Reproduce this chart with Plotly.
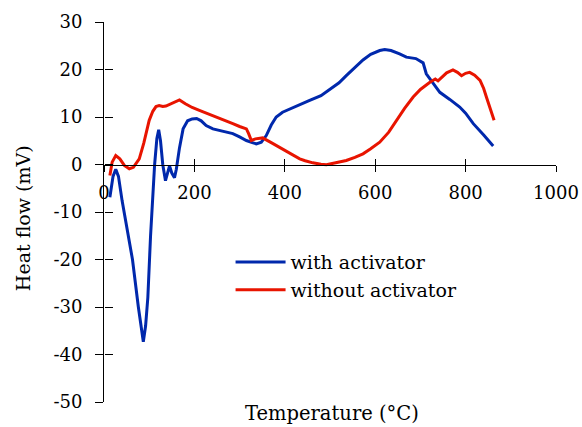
import plotly.graph_objects as go

# DSC heat-flow curves (temperature in °C, heat flow in mV)
temp_with = [13, 20, 26, 32, 40, 52, 63, 76, 83, 87, 92, 97, 103, 108, 112, 117, 121,
             125, 130, 136, 141, 145, 150, 156, 160, 167, 175, 185, 195, 205, 215, 226,
             241, 260, 285, 300, 315, 328, 337, 348, 359, 370, 381, 395, 411, 433, 455,
             480, 500, 520, 536, 555, 573, 590, 610, 621, 635, 654, 669, 690, 706, 713,
             725, 743, 765, 787, 800, 817, 840, 861]
flow_with = [-6.9, -2.5, -1.0, -2.5, -7.6, -14.0, -20.0, -30.0, -35.0, -37.3, -34.0, -28.0,
             -15.0, -5.0, 0.0, 5.5, 7.3, 5.0, 0.0, -3.4, -1.5, -0.3, -1.8, -2.8, -1.0,
             3.5, 7.5, 9.2, 9.6, 9.7, 9.2, 8.2, 7.5, 7.0, 6.5, 5.8, 5.05, 4.6, 4.35, 4.7,
             6.1, 8.3, 10.0, 11.0, 11.7, 12.6, 13.5, 14.5, 15.9, 17.2, 18.7, 20.4, 22.0,
             23.2, 24.0, 24.2, 24.0, 23.3, 22.6, 22.3, 21.4, 19.1, 17.5, 15.2, 13.7, 12.1,
             10.8, 8.6, 6.2, 3.9]

temp_without = [13, 18, 26, 35, 45, 56, 65, 78, 88, 100, 108, 115, 122, 130, 137, 150,
                167, 180, 195, 211, 230, 248, 270, 285, 300, 315, 320, 326, 335, 351, 370,
                396, 410, 433, 445, 462, 480, 492, 510, 536, 555, 573, 590, 610, 630, 647,
                665, 684, 700, 721, 733, 739, 745, 758, 772, 782, 791, 800, 809, 820, 832,
                840, 846, 855, 863]
flow_without = [-2.3, 0.5, 1.9, 1.2, -0.2, -0.9, -0.6, 1.2, 4.5, 9.3, 11.2, 12.2, 12.4,
                12.2, 12.3, 12.8, 13.6, 12.8, 12.0, 11.4, 10.7, 10.1, 9.3, 8.6, 8.0, 7.5,
                6.5, 5.05, 5.4, 5.6, 4.6, 3.2, 2.5, 1.2, 0.8, 0.35, 0.05, -0.05, 0.3, 0.84,
                1.5, 2.25, 3.3, 4.7, 6.8, 9.3, 11.8, 14.2, 15.8, 17.3, 18.0, 17.6, 18.2,
                19.3, 19.9, 19.4, 18.7, 19.2, 19.4, 18.8, 17.7, 16.0, 14.2, 11.8, 9.3]

x_ticks = [0, 200, 400, 600, 800, 1000]
y_ticks = [-50, -40, -30, -20, -10, 0, 10, 20, 30]

FONT = "DejaVu Serif"
BLUE = "#0028AC"
RED = "#E81400"

fig = go.Figure()
fig.add_trace(go.Scatter(x=temp_with, y=flow_with, mode="lines", name="with activator",
                         line=dict(color=BLUE, width=3)))
fig.add_trace(go.Scatter(x=temp_without, y=flow_without, mode="lines", name="without activator",
                         line=dict(color=RED, width=3)))
# empty trace so the overlay axes (inner half of the crossing ticks) are drawn
fig.add_trace(go.Scatter(x=[], y=[], xaxis="x2", yaxis="y2", showlegend=False))

zero_pos = (0 - y_ticks[0]) / (y_ticks[-1] - y_ticks[0])

axis_common = dict(showgrid=False, zeroline=False, linecolor="black", tickcolor="black",
                   tickwidth=1, linewidth=1, automargin=False)

fig.update_layout(
    width=582, height=427,
    margin=dict(l=104, r=26, t=22, b=25),
    paper_bgcolor="white", plot_bgcolor="white",
    font=dict(family=FONT, size=18, color="black"),
    xaxis=dict(range=[0, 1000], tickvals=x_ticks, ticktext=[str(v) for v in x_ticks],
               anchor="free", position=zero_pos, showline=True, ticks="outside", ticklen=6,
               ticklabelstandoff=6, tickfont=dict(family=FONT, size=18), **axis_common),
    yaxis=dict(range=[-50, 30], tickvals=y_ticks, ticktext=[str(v) for v in y_ticks],
               showline=True, ticks="outside", ticklen=8, ticklabelstandoff=9,
               tickfont=dict(family=FONT, size=18), **axis_common),
    xaxis2=dict(range=[0, 1000], tickvals=x_ticks[1:], overlaying="x", anchor="free",
                position=zero_pos, showline=False, ticks="inside", ticklen=6,
                showticklabels=False, **axis_common),
    yaxis2=dict(range=[-50, 30], tickvals=y_ticks, overlaying="y", anchor="free", position=0,
                side="left", showline=False, ticks="inside", ticklen=8,
                showticklabels=False, **axis_common),
    legend=dict(x=0.28, y=0.418, xanchor="left", yanchor="top", bgcolor="rgba(0,0,0,0)",
                font=dict(family=FONT, size=19), tracegroupgap=0, itemwidth=50),
    showlegend=True,
    annotations=[
        dict(text="Heat flow (mV)", xref="paper", yref="paper", x=-0.179, y=0.484,
             xanchor="center", yanchor="middle", textangle=-90, showarrow=False,
             font=dict(family=FONT, size=19)),
        dict(text="Temperature (°C)", xref="paper", yref="paper", x=0.504, y=-0.03,
             xanchor="center", yanchor="middle", showarrow=False,
             font=dict(family=FONT, size=19.5)),
    ],
)

fig.write_html("out.html")
